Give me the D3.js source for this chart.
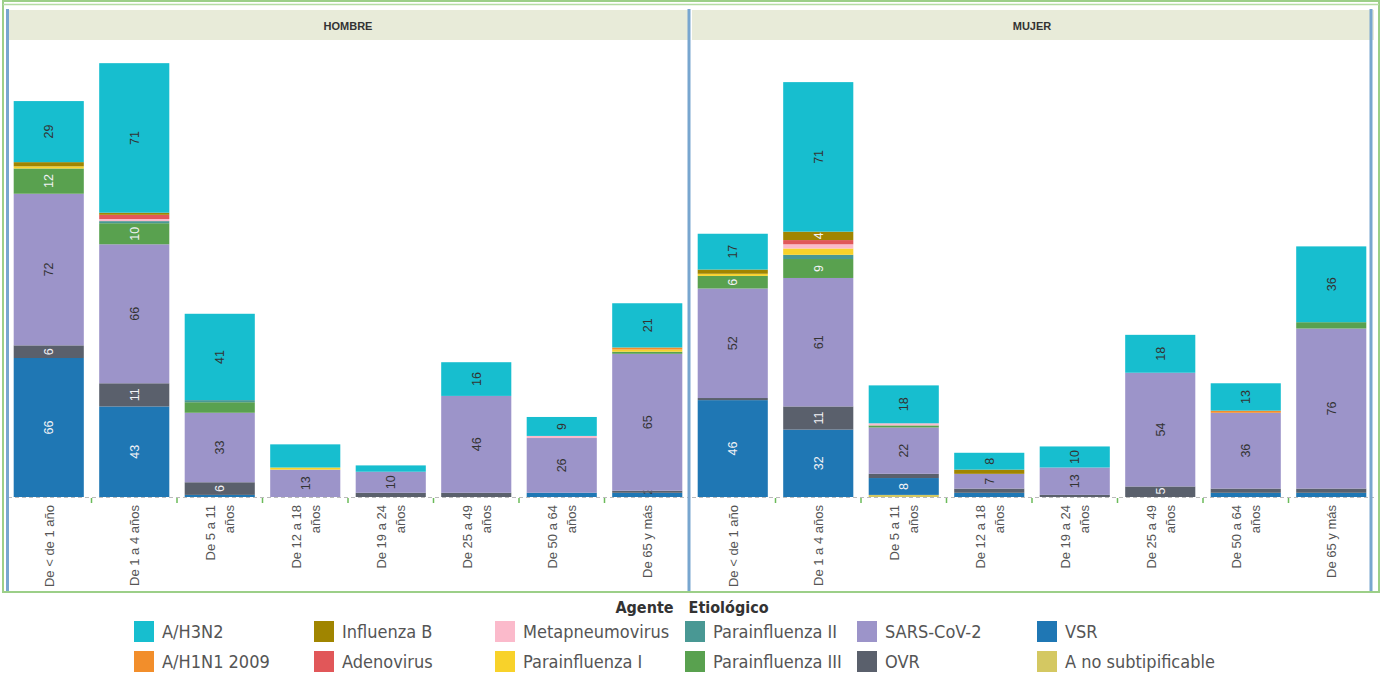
<!DOCTYPE html>
<html>
<head>
<meta charset="utf-8">
<script src="https://cdn.jsdelivr.net/npm/d3@7"></script>
<style>
  body { margin: 0; background: #fff; }
  text { font-family: "Liberation Sans", Arial, sans-serif; }
  .legend text { font-family: "Liberation Sans Narrow", "DejaVu Sans Condensed", "Liberation Sans", sans-serif; white-space: pre; }
</style>
</head>
<body>
<svg width="1383" height="674"></svg>
<script>
// ---- data ----
var sexes = ["HOMBRE", "MUJER"];
var ageGroups = ["De < de 1 año", "De 1 a 4 años", "De 5 a 11 años", "De 12 a 18 años",
                 "De 19 a 24 años", "De 25 a 49 años", "De 50 a 64 años", "De 65 y más"];

// legend order
var agents = ["A/H3N2", "A/H1N1 2009", "Influenza B", "Adenovirus", "Metapneumovirus",
              "Parainfluenza I", "Parainfluenza II", "Parainfluenza III", "SARS-CoV-2",
              "OVR", "VSR", "A no subtipificable"];
var agentColors = ["#17becf", "#f28e2b", "#a08500", "#e15759", "#fbbacb",
                   "#f8d22a", "#499894", "#59a14f", "#9c94c9",
                   "#5a606c", "#1f77b4", "#d4c862"];

// one row per agent (same order), one value per age group
var hombreValues = [
  [29, 71, 41, 11, 3, 16, 9, 21],   // A/H3N2
  [0, 0, 0, 0, 0, 0, 0, 1],         // A/H1N1 2009
  [2, 1, 0, 0, 0, 0, 0, 0],         // Influenza B
  [0, 2, 0, 0, 0, 0, 0, 0],         // Adenovirus
  [0, 1, 0, 0, 0, 0, 1, 0],         // Metapneumovirus
  [1, 0, 0, 1, 0, 0, 0, 1],         // Parainfluenza I
  [0, 1, 1, 0, 0, 0, 0, 0],         // Parainfluenza II
  [12, 10, 5, 0, 0, 0, 0, 1],       // Parainfluenza III
  [72, 66, 33, 13, 10, 46, 26, 65], // SARS-CoV-2
  [6, 11, 6, 0, 2, 2, 0, 1],        // OVR
  [66, 43, 1, 0, 0, 0, 2, 2],       // VSR
  [0, 0, 0, 0, 0, 0, 0, 0]          // A no subtipificable
];
var mujerValues = [
  [17, 71, 18, 8, 10, 18, 13, 36],
  [0, 0, 0, 0, 0, 0, 1, 0],
  [2, 4, 0, 2, 0, 0, 0, 0],
  [0, 2, 0, 0, 0, 0, 0, 0],
  [0, 2, 1, 0, 0, 0, 0, 0],
  [1, 3, 0, 0, 0, 0, 0, 0],
  [0, 2, 0, 0, 0, 0, 0, 0],
  [6, 9, 1, 0, 0, 0, 0, 3],
  [52, 61, 22, 7, 13, 54, 36, 76],
  [1, 11, 2, 2, 1, 5, 2, 2],
  [46, 32, 8, 2, 0, 0, 2, 2],
  [0, 0, 1, 0, 0, 0, 0, 0]
];
// labels: shown when value >= 6, except these
var extraLabels = ["HOMBRE|De 65 y más|VSR", "MUJER|De 1 a 4 años|Influenza B", "MUJER|De 25 a 49 años|OVR"];
var hiddenLabels = ["HOMBRE|De 12 a 18 años|A/H3N2"];
var darkTextAgents = ["A/H3N2", "SARS-CoV-2", "Metapneumovirus", "Parainfluenza I", "A no subtipificable"];

var svg = d3.select("svg");
var baseY = 497, topY = 40;
var panelRanges = [[6, 690], [690, 1374]];

var color = d3.scaleOrdinal().domain(agents).range(agentColors);
var y = d3.scaleLinear().domain([0, 217]).range([baseY, topY]);

// frame
svg.append("rect").attr("x", 3).attr("y", 1).attr("width", 1376).attr("height", 591)
  .attr("fill", "none").attr("stroke", "#9ccf88").attr("stroke-width", 2);
svg.append("line").attr("x1", 3).attr("x2", 1379).attr("y1", 4.5).attr("y2", 4.5)
  .attr("stroke", "#b5dca4").attr("stroke-width", 1.5);

sexes.forEach(function(sex, si) {
  var values = si === 0 ? hombreValues : mujerValues;
  var r = panelRanges[si];
  var x = d3.scaleBand().domain(ageGroups).range(r).paddingInner(0.18).paddingOuter(0.09);

  // header
  svg.append("rect").attr("x", r[0] + 2).attr("y", 10).attr("width", r[1] - r[0] - 2).attr("height", 30)
    .attr("fill", "#e8ebd9");
  svg.append("text").attr("x", (r[0] + r[1]) / 2).attr("y", 29.5)
    .attr("text-anchor", "middle").attr("font-size", 11).attr("font-weight", 600).attr("fill", "#333")
    .text(sex);

  // rows for stack
  var rows = ageGroups.map(function(g, gi) {
    var row = { group: g };
    agents.forEach(function(a, ai) { row[a] = values[ai][gi]; });
    return row;
  });
  var stack = d3.stack().keys(agents.slice().reverse());
  var series = stack(rows);

  var g = svg.append("g");
  series.forEach(function(s) {
    g.selectAll(null).data(s.filter(function(d) { return d[1] > d[0]; }))
      .enter().append("rect")
      .attr("x", function(d) { return x(d.data.group); })
      .attr("width", x.bandwidth())
      .attr("y", function(d) { return y(d[1]); })
      .attr("height", function(d) { return y(d[0]) - y(d[1]); })
      .attr("fill", color(s.key));

    g.selectAll(null).data(s.filter(function(d) {
        var v = d[1] - d[0];
        var key = sex + "|" + d.data.group + "|" + s.key;
        if (hiddenLabels.indexOf(key) >= 0) return false;
        return v >= 6 || extraLabels.indexOf(key) >= 0;
      }))
      .enter().append("text")
      .attr("transform", function(d) {
        var cx = x(d.data.group) + x.bandwidth() / 2;
        var cy = (y(d[0]) + y(d[1])) / 2;
        if (cy > baseY - 6) cy = baseY - 6;
        return "translate(" + (cx + 4.5) + "," + cy + ") rotate(-90)";
      })
      .attr("text-anchor", "middle")
      .attr("font-size", 12.5)
      .attr("fill", function(d) {
        var small = (y(d[0]) - y(d[1])) < 8;
        return (darkTextAgents.indexOf(s.key) >= 0 || small) ? "#333" : "#f2f2f6";
      })
      .text(function(d) { return d[1] - d[0]; });
  });

  // baseline
  svg.append("line").attr("x1", r[0] + 2).attr("x2", r[1]).attr("y1", baseY + 0.5).attr("y2", baseY + 0.5)
    .attr("stroke", "#bbb").attr("stroke-dasharray", "4,3");

  // ticks between groups
  svg.selectAll(null).data(ageGroups.slice(1)).enter().append("line")
    .attr("x1", function(d) { return x(d) - x.step() * x.paddingInner() / 2; })
    .attr("x2", function(d) { return x(d) - x.step() * x.paddingInner() / 2; })
    .attr("y1", baseY + 1).attr("y2", baseY + 6)
    .attr("stroke", "#6bbb5a").attr("stroke-width", 1.5);

  // x labels
  ageGroups.forEach(function(ag) {
    var lines = ag.length > 13 ? [ag.slice(0, ag.lastIndexOf(" ")), ag.slice(ag.lastIndexOf(" ") + 1)] : [ag];
    var cx = x(ag) + x.bandwidth() / 2;
    lines.forEach(function(l, li) {
      var lx = cx + 5 + (li - (lines.length - 1) / 2) * 19;
      svg.append("text")
        .attr("transform", "translate(" + lx + "," + 505 + ") rotate(-90)")
        .attr("text-anchor", "end")
        .attr("font-size", 13).attr("fill", "#555")
        .text(l);
    });
  });
});

// panel separators
[7.5, 689, 1371].forEach(function(px) {
  svg.append("line").attr("x1", px).attr("x2", px).attr("y1", 9).attr("y2", 591)
    .attr("stroke", "#78a6cf").attr("stroke-width", 3);
});

// legend
var legend = svg.append("g").attr("class", "legend");
legend.append("text").attr("x", 692).attr("y", 613).attr("text-anchor", "middle")
  .attr("font-size", 16).attr("font-weight", "bold").attr("fill", "#333")
  .text("Agente   Etiológico");
var colX = [134, 314, 495, 685, 857, 1037];
agents.forEach(function(a, i) {
  var col = Math.floor(i / 2), row = i % 2;
  var lx = colX[col], ly = 621 + row * 30;
  legend.append("rect").attr("x", lx).attr("y", ly).attr("width", 20).attr("height", 21)
    .attr("fill", color(a));
  legend.append("text").attr("x", lx + 28).attr("y", ly + 17)
    .attr("font-size", 18).attr("fill", "#555").text(a);
});
</script>
</body>
</html>
